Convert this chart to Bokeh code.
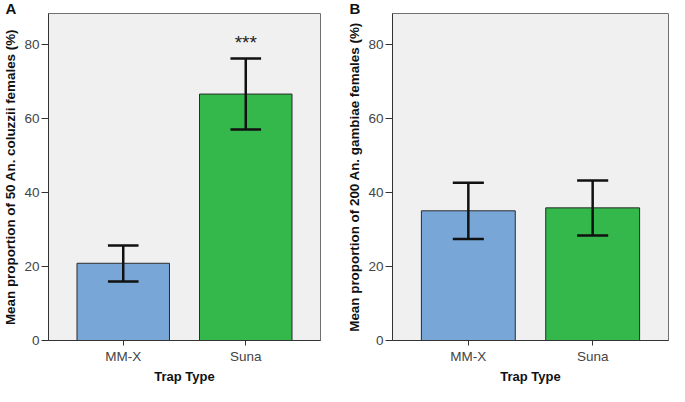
from bokeh.plotting import figure
from bokeh.layouts import row
from bokeh.models import Range1d, FixedTicker, Label, ColumnDataSource
from bokeh.embed import file_html
from bokeh.resources import INLINE

# ---- data ----
categories = ["MM-X", "Suna"]
bar_colors = ["#78a7d7", "#34b84b"]

a_means = [20.9, 66.7]
a_lower = [16.0, 57.1]
a_upper = [25.7, 76.3]
a_ylabel = "Mean proportion of 50 An. coluzzii females (%)"
a_signif = "***"

b_means = [35.1, 35.9]
b_lower = [27.5, 28.4]
b_upper = [42.7, 43.3]
b_ylabel = "Mean proportion of 200 An. gambiae females (%)"

y_ticks = [0, 20, 40, 60, 80]
xlabel = "Trap Type"

X0, X1 = -0.61, 1.61
Y0, Y1 = 0, 88.5
BAR_W = 0.755
CAP_HALF = 0.125
FONT = "Liberation Sans"


def make_panel(means, lower, upper, ylabel, letter, width, height,
               bl, br, bt, bb, letter_px, signif=None):
    p = figure(width=width, height=height, output_backend="svg",
               toolbar_location=None, x_range=Range1d(X0, X1),
               y_range=Range1d(Y0, Y1), min_border_left=bl,
               min_border_right=br, min_border_top=bt, min_border_bottom=bb)
    p.border_fill_color = "#ffffff"
    p.background_fill_color = "#f0f0f0"
    p.outline_line_color = "#707070"
    p.outline_line_width = 1
    p.grid.visible = False

    # panel letter as the title, pulled to the canvas' left edge
    p.title.text = letter
    p.title.align = "left"
    p.title.offset = letter_px - bl
    p.title.standoff = -6
    p.title.text_font = FONT
    p.title.text_font_style = "bold"
    p.title.text_font_size = "15px"
    p.title.text_color = "#111111"

    xs = list(range(len(categories)))
    src = ColumnDataSource(dict(x=xs, top=means, lo=lower, hi=upper,
                                color=bar_colors))
    p.vbar(x="x", top="top", bottom=0, width=BAR_W, source=src,
           fill_color="color", line_color="#2b2b2b", line_width=1)
    p.segment(x0="x", y0="lo", x1="x", y1="hi", source=src,
              line_color="#111111", line_width=2.5)
    cl = [x - CAP_HALF for x in xs]
    cr = [x + CAP_HALF for x in xs]
    p.segment(x0=cl, y0=lower, x1=cr, y1=lower, line_color="#111111", line_width=2.5)
    p.segment(x0=cl, y0=upper, x1=cr, y1=upper, line_color="#111111", line_width=2.5)

    if signif:
        p.add_layout(Label(x=1, y=upper[1] + 1.5, text=signif,
                           text_align="center", text_baseline="bottom",
                           text_font=FONT, text_font_size="19px",
                           text_color="#222222"))

    # axes
    p.xaxis.ticker = FixedTicker(ticks=xs)
    p.xaxis.major_label_overrides = {i: c for i, c in enumerate(categories)}
    p.yaxis.ticker = FixedTicker(ticks=y_ticks)
    for ax in (p.xaxis, p.yaxis):
        ax.axis_line_color = "#333333"
        ax.axis_line_width = 1
        ax.major_tick_line_color = "#333333"
        ax.major_tick_in = 0
        ax.minor_tick_line_color = None
        ax.major_label_text_font = FONT
        ax.major_label_text_font_size = "13.5px"
        ax.major_label_text_color = "#444444"
        ax.axis_label_text_font = FONT
        ax.axis_label_text_font_style = "bold"
        ax.axis_label_text_color = "#111111"
    p.yaxis.major_tick_out = 7
    p.yaxis.major_label_standoff = 2
    p.yaxis.axis_label = ylabel
    p.yaxis.axis_label_text_font_size = "13.4px"
    p.yaxis.axis_label_standoff = 3
    p.xaxis.major_tick_out = 5
    p.xaxis.major_label_standoff = 3
    p.xaxis.axis_label = xlabel
    p.xaxis.axis_label_text_font_size = "13px"
    p.xaxis.axis_label_standoff = 2
    return p


pa = make_panel(a_means, a_lower, a_upper, a_ylabel, "A", 335, 386,
                43, 15, 0, 39, 0, signif=a_signif)
pb = make_panel(b_means, b_lower, b_upper, b_ylabel, "B", 334, 386,
                57, 1, 0, 39, 14)

layout = row(pa, pb)
open("out.html", "w").write(file_html(layout, INLINE))
